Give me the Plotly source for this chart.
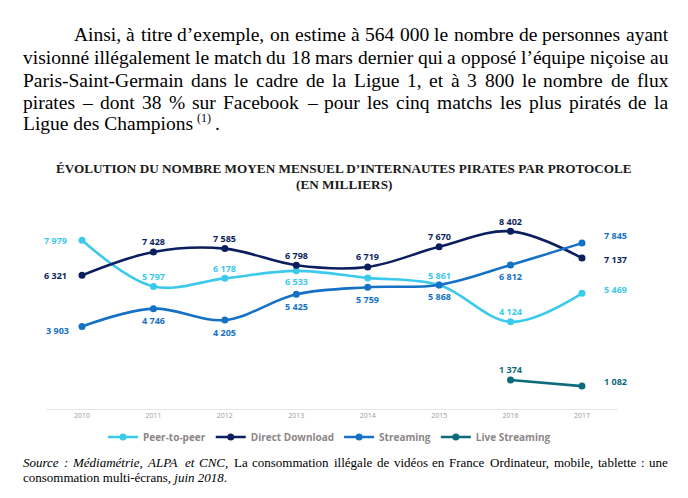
import unicodedata
import plotly.graph_objects as go

# ---------------- data ----------------
years = ["2010", "2011", "2012", "2013", "2014", "2015", "2016", "2017"]
peer_to_peer = [7979, 5797, 6178, 6533, 6200, 5861, 4124, 5469]
direct_download = [6321, 7428, 7585, 6798, 6719, 7670, 8402, 7137]
streaming = [3903, 4746, 4205, 5425, 5759, 5868, 6812, 7845]
live_streaming = [None, None, None, None, None, None, 1374, 1082]
series_names = ["Peer-to-peer", "Direct Download", "Streaming", "Live Streaming"]

title_lines = ["ÉVOLUTION DU NOMBRE MOYEN MENSUEL D’INTERNAUTES PIRATES PAR PROTOCOLE",
               "(EN MILLIERS)"]
paragraph = [
    "Ainsi, à titre d’exemple, on estime à 564 000 le nombre de personnes ayant",
    "visionné illégalement le match du 18 mars dernier qui a opposé l’équipe niçoise au",
    "Paris-Saint-Germain dans le cadre de la Ligue 1, et à 3 800 le nombre de flux",
    "pirates – dont 38 % sur Facebook – pour les cinq matchs les plus piratés de la",
    "Ligue des Champions",
]
footnote_mark = "(1)"
source_line1 = "Source : Médiamétrie, ALPA et CNC, La consommation illégale de vidéos en France Ordinateur, mobile, tablette : une"
source_italic_words = 6
source_line2 = "consommation multi-écrans, <i>juin 2018</i>."

# ---------------- styles ----------------
colors = ["#3ccaec", "#0b1f5e", "#1571c6", "#0e6b7c"]
W, H = 688, 498
X0, X1 = 46.3, 617.7      # plot area px
Y0PX, YTOP = 409, 218.7   # y=0 and y=9000 px
PARA_SIZE = 19.5

# label placement: (xanchor, xshift, yshift) or None
L = ("right", -13, 0)
A = ("center", 0, 10)
B = ("center", 0, -12)
label_pos = [
    [L, A, A, ("center", 0, -11), None, A, A, ("left", 20, 4)],
    [L, A, A, A, A, A, A, ("left", 20, -1)],
    [("right", -11, -4), B, B, B, B, B, B, ("left", 20, 8)],
    [None, None, None, None, None, None, A, ("left", 20, 5)],
]

fig = go.Figure()
all_series = [peer_to_peer, direct_download, streaming, live_streaming]
for name, vals, col in zip(series_names, all_series, colors):
    fig.add_trace(go.Scatter(
        x=years, y=vals, name=name, mode="lines+markers",
        line=dict(color=col, width=2.6, shape="spline", smoothing=1),
        marker=dict(color=col, size=7),
        connectgaps=False, hoverinfo="skip",
    ))

annotations = []
for vals, col, pos in zip(all_series, colors, label_pos):
    for i, (v, p) in enumerate(zip(vals, pos)):
        if v is None or p is None:
            continue
        annotations.append(dict(
            x=i, y=v, xref="x", yref="y", showarrow=False,
            text=f"{v:,}".replace(",", " "),
            xanchor=p[0], yanchor="middle", xshift=p[1], yshift=p[2],
            font=dict(family="Open Sans", size=9, color=col, weight=700),
        ))

# ---------------- text layout helpers (Times / Liberation Serif metrics) ----------------
TW = {' ': 250, 'a': 444, 'b': 500, 'c': 444, 'd': 500, 'e': 444, 'f': 333, 'g': 500,
      'h': 500, 'i': 278, 'j': 278, 'k': 500, 'l': 278, 'm': 778, 'n': 500, 'o': 500,
      'p': 500, 'q': 500, 'r': 333, 's': 389, 't': 278, 'u': 500, 'v': 500, 'w': 722,
      'x': 500, 'y': 500, 'z': 444, 'A': 722, 'B': 667, 'C': 667, 'D': 722, 'E': 611,
      'F': 556, 'G': 722, 'H': 722, 'I': 333, 'J': 389, 'K': 722, 'L': 611, 'M': 889,
      'N': 722, 'O': 722, 'P': 556, 'Q': 722, 'R': 667, 'S': 556, 'T': 611, 'U': 722,
      'V': 722, 'W': 944, 'X': 722, 'Y': 722, 'Z': 611, ',': 250, '.': 250, '-': 333,
      '–': 500, '’': 333, '%': 833, '(': 333, ')': 333, ':': 278}


def text_w(s, size):
    tot = 0
    for c in s:
        b = unicodedata.normalize("NFD", c)[0]
        tot += TW.get(b, 500)
    return tot / 1000 * size


def px(x):
    return x / W


def py(y):
    return 1 - y / H


def justify(line, x0, x1, yc, size, italic_n=0, family="Liberation Serif"):
    words = line.split(" ")
    widths = [text_w(w, size) for w in words]
    gap = max((x1 - x0 - sum(widths)) / (len(words) - 1), 0.18 * size)
    x = x0
    for i, (w, wd) in enumerate(zip(words, widths)):
        annotations.append(dict(
            x=px(x), y=py(yc), xref="paper", yref="paper", showarrow=False,
            text=f"<i>{w}</i>" if i < italic_n else w,
            xanchor="left", yanchor="middle", borderpad=0,
            font=dict(family=family, size=size, color="#000000"),
        ))
        x += wd + gap


def plain(text, x0, yc, size, anchor="left", bold=False, color="#000000"):
    annotations.append(dict(
        x=px(x0), y=py(yc), xref="paper", yref="paper", showarrow=False,
        text=text, xanchor=anchor, yanchor="middle", borderpad=0,
        font=dict(family="Liberation Serif", size=size, color=color,
                  weight=700 if bold else 400),
    ))


# paragraph
para_y = [35, 57.5, 80, 102, 123.5]
justify(paragraph[0], 73, 667, para_y[0], PARA_SIZE)
for ln, yc in zip(paragraph[1:4], para_y[1:4]):
    justify(ln, 22, 667, yc, PARA_SIZE)
plain(paragraph[4], 22, para_y[4], PARA_SIZE)
xe = 22 + text_w(paragraph[4], PARA_SIZE) + 4
plain(footnote_mark, xe, para_y[4] - 6, 12)
plain(".", xe + text_w(footnote_mark, 12) + 4, para_y[4], PARA_SIZE)

# chart title
plain(title_lines[0], 344, 168.5, 13.2, anchor="center", bold=True, color="#1a1a1a")
plain(title_lines[1], 344, 185, 13.2, anchor="center", bold=True, color="#1a1a1a")

# source
justify(source_line1, 22, 667, 462, 13, italic_n=source_italic_words)
plain(source_line2, 22, 477, 13)

fig.update_layout(
    width=W, height=H,
    margin=dict(l=0, r=0, t=0, b=0),
    paper_bgcolor="white", plot_bgcolor="white",
    xaxis=dict(domain=[X0 / W, X1 / W], type="category", range=[-0.5, 7.5],
               showline=True, linecolor="#e6e6e6", linewidth=1, ticks="",
               showgrid=False, zeroline=False, fixedrange=True,
               tickfont=dict(family="Open Sans", size=7, color="#9a9a9a")),
    yaxis=dict(domain=[(H - Y0PX) / H, (H - YTOP) / H], range=[0, 9000],
               visible=False, fixedrange=True),
    legend=dict(orientation="h", x=px(103), xanchor="left", y=py(437), yanchor="middle",
                font=dict(family="Open Sans", size=10, color="#8c8686", weight=700),
                bgcolor="rgba(0,0,0,0)", itemwidth=30, traceorder="normal"),
    annotations=annotations,
    showlegend=True,
)

fig.write_html("out.html", config={"displayModeBar": False},
               post_script="document.body.style.margin='0px';")
